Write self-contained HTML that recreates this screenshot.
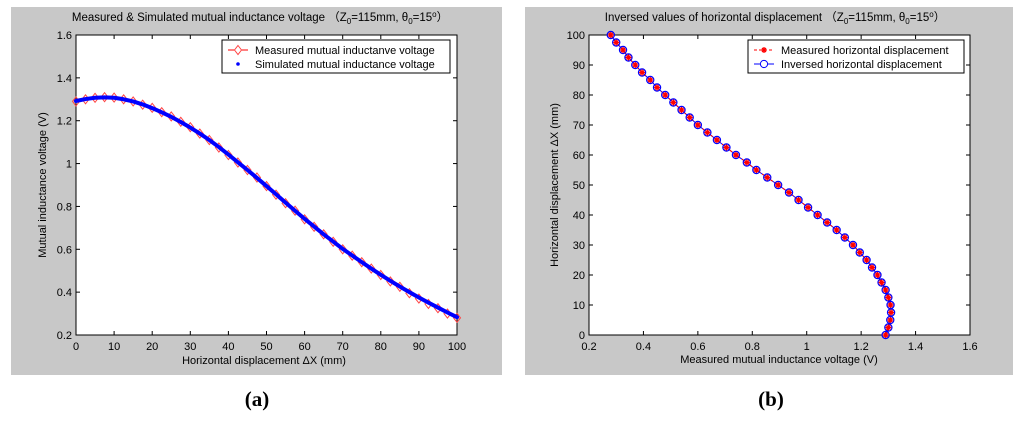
<!DOCTYPE html>
<html><head><meta charset="utf-8"><style>
html,body{margin:0;padding:0;background:#fff;width:1024px;height:423px;overflow:hidden}
svg{display:block;font-family:"Liberation Sans",sans-serif}
</style></head><body>
<svg id="svg" width="1024" height="423" xmlns="http://www.w3.org/2000/svg">
<rect x="11" y="7" width="491" height="368" fill="#c8c8c8"/>
<rect x="525" y="7" width="488" height="368" fill="#c8c8c8"/>
<g id="ga"></g>
<g id="gb"></g>
<text x="257" y="406" font-family="Liberation Serif,serif" font-size="21" font-weight="bold" text-anchor="middle">(a)</text>
<text x="771" y="406" font-family="Liberation Serif,serif" font-size="21" font-weight="bold" text-anchor="middle">(b)</text>
</svg>
<script>
const displacement=[0,2.5,5,7.5,10,12.5,15,17.5,20,22.5,25,27.5,30,32.5,35,37.5,40,42.5,45,47.5,50,52.5,55,57.5,60,62.5,65,67.5,70,72.5,75,77.5,80,82.5,85,87.5,90,92.5,95,97.5,100];
const measuredVoltage=[1.29,1.30,1.307,1.31,1.308,1.30,1.29,1.275,1.26,1.24,1.22,1.195,1.17,1.14,1.11,1.075,1.04,1.005,0.97,0.935,0.895,0.855,0.815,0.78,0.74,0.705,0.67,0.635,0.60,0.57,0.54,0.51,0.48,0.45,0.425,0.395,0.37,0.345,0.325,0.30,0.28];
const simulatedVoltage=[1.292,1.301,1.307,1.309,1.307,1.300,1.290,1.276,1.259,1.239,1.218,1.194,1.168,1.140,1.110,1.077,1.042,1.006,0.970,0.933,0.895,0.857,0.818,0.780,0.742,0.706,0.670,0.636,0.602,0.571,0.540,0.510,0.481,0.453,0.426,0.400,0.375,0.351,0.328,0.305,0.283];
const inversedDisplacement=displacement.slice();
const ticksA_x=[0,10,20,30,40,50,60,70,80,90,100];
const ticksA_y=[0.2,0.4,0.6,0.8,1,1.2,1.4,1.6];
const ticksB_x=[0.2,0.4,0.6,0.8,1,1.2,1.4,1.6];
const ticksB_y=[0,10,20,30,40,50,60,70,80,90,100];
const NS="http://www.w3.org/2000/svg";
function mk(p,tag,at,txt){const e=document.createElementNS(NS,tag);for(const k in at)e.setAttribute(k,at[k]);if(txt!==undefined)e.textContent=txt;p.appendChild(e);return e;}
function axes(g,L,T,R,B,xt,yt,sx,sy,prefix){
  const r=mk(g,'rect',{x:L,y:T,width:R-L,height:B-T,fill:'#fff',stroke:'#000','stroke-width':1});
  
  
  xt.forEach(v=>{const x=sx(v);
    mk(g,'line',{x1:x,y1:B,x2:x,y2:B-4,stroke:'#000'});mk(g,'line',{x1:x,y1:T,x2:x,y2:T+4,stroke:'#000'});
    const t=mk(g,'text',{x:x,y:B+15,'font-size':11,'text-anchor':'middle'},String(v));
    
    });
  yt.forEach(v=>{const y=sy(v);
    mk(g,'line',{x1:L,y1:y,x2:L+4,y2:y,stroke:'#000'});mk(g,'line',{x1:R,y1:y,x2:R-4,y2:y,stroke:'#000'});
    const t=mk(g,'text',{x:L-4,y:y+4,'font-size':11,'text-anchor':'end'},String(v));
    
    });
}
// Chart A
(function(){
const g=document.getElementById('ga');const L=76,T=35,R=457,B=335;
const sx=v=>L+(v-0)/100*(R-L), sy=v=>B-(v-0.2)/1.4*(B-T);
axes(g,L,T,R,B,ticksA_x,ticksA_y,sx,sy,'a-');
const mp=displacement.map((d,i)=>sx(d)+','+sy(measuredVoltage[i])).join(' ');
const ml=mk(g,'polyline',{points:mp,fill:'none',stroke:'#f00','stroke-width':1});


displacement.forEach((d,i)=>{const x=sx(d),y=sy(measuredVoltage[i]);
  const m=mk(g,'polygon',{points:`${x},${y-4.5} ${x+3.5},${y} ${x},${y+4.5} ${x-3.5},${y}`,fill:'none',stroke:'#f44','stroke-width':1});
  
  });
const sp=displacement.map((d,i)=>sx(d)+','+sy(simulatedVoltage[i])).join(' ');
const sl=mk(g,'polyline',{points:sp,fill:'none',stroke:'#00f','stroke-width':4,'stroke-linejoin':'round','stroke-linecap':'round'});


const lg=mk(g,'g',{});


mk(lg,'rect',{x:222,y:40,width:228,height:33,fill:'#fff',stroke:'#000'});
mk(lg,'line',{x1:228,y1:50,x2:248,y2:50,stroke:'#f00'});
mk(lg,'polygon',{points:'238,45.5 241.5,50 238,54.5 234.5,50',fill:'#fff',stroke:'#f44'});
mk(lg,'circle',{cx:238,cy:64,r:1.8,fill:'#00f'});
mk(lg,'text',{x:255,y:54,'font-size':11},'Measured mutual inductanve voltage');
mk(lg,'text',{x:255,y:68,'font-size':11},'Simulated mutual inductance voltage');
const tt=mk(g,'text',{x:260,y:21,'font-size':11.5,'text-anchor':'middle'});
tt.innerHTML='Measured &amp; Simulated mutual inductance voltage （Z<tspan font-size="8" dy="3">0</tspan><tspan dy="-3">=115mm, θ</tspan><tspan font-size="8" dy="3">0</tspan><tspan dy="-3">=15</tspan><tspan font-size="8" dy="-4">o</tspan><tspan dy="4">）</tspan>';


const xl=mk(g,'text',{x:264,y:364,'font-size':11,'text-anchor':'middle'},'Horizontal displacement ΔX (mm)');


const yl=mk(g,'text',{x:0,y:0,'font-size':11,'text-anchor':'middle',transform:'translate(46,185) rotate(-90)'},'Mutual inductance voltage (V)');


})();
// Chart B
(function(){
const g=document.getElementById('gb');const L=589,T=35,R=970,B=335;
const sx=v=>L+(v-0.2)/1.4*(R-L), sy=v=>B-v/100*(B-T);
axes(g,L,T,R,B,ticksB_x,ticksB_y,sx,sy,'b-');
const ip=displacement.map((d,i)=>sx(measuredVoltage[i])+','+sy(inversedDisplacement[i])).join(' ');
const il=mk(g,'polyline',{points:ip,fill:'none',stroke:'#00f','stroke-width':1});


const mp=displacement.map((d,i)=>sx(measuredVoltage[i])+','+sy(d)).join(' ');
const ml=mk(g,'polyline',{points:mp,fill:'none',stroke:'#f00','stroke-width':1,'stroke-dasharray':'3,2'});


displacement.forEach((d,i)=>{const x=sx(measuredVoltage[i]),y=sy(inversedDisplacement[i]);
  const c=mk(g,'circle',{cx:x,cy:y,r:3.6,fill:'none',stroke:'#00f','stroke-width':1.2});
  
  
  const y2=sy(d);
  const s=mk(g,'path',{d:`M${x-3},${y2}H${x+3}M${x},${y2-3}V${y2+3}M${x-2},${y2-2}L${x+2},${y2+2}M${x-2},${y2+2}L${x+2},${y2-2}`,stroke:'#f00','stroke-width':1.3});
  
  });
const lg=mk(g,'g',{});


mk(lg,'rect',{x:748,y:40,width:216,height:33,fill:'#fff',stroke:'#000'});
mk(lg,'line',{x1:754,y1:50,x2:774,y2:50,stroke:'#f00','stroke-dasharray':'3,2'});
mk(lg,'path',{d:'M761,50H767M764,47V53M762,48L766,52M762,52L766,48',stroke:'#f00','stroke-width':1.3});
mk(lg,'line',{x1:754,y1:64,x2:774,y2:64,stroke:'#00f'});
mk(lg,'circle',{cx:764,cy:64,r:3.6,fill:'#fff',stroke:'#00f'});
mk(lg,'text',{x:781,y:54,'font-size':11},'Measured horizontal displacement');
mk(lg,'text',{x:781,y:68,'font-size':11},'Inversed horizontal displacement');
const tt=mk(g,'text',{x:775,y:21,'font-size':11.5,'text-anchor':'middle'});
tt.innerHTML='Inversed values of horizontal displacement （Z<tspan font-size="8" dy="3">0</tspan><tspan dy="-3">=115mm, θ</tspan><tspan font-size="8" dy="3">0</tspan><tspan dy="-3">=15</tspan><tspan font-size="8" dy="-4">o</tspan><tspan dy="4">）</tspan>';


const xl=mk(g,'text',{x:779,y:363,'font-size':11,'text-anchor':'middle'},'Measured mutual inductance voltage (V)');


const yl=mk(g,'text',{x:0,y:0,'font-size':11,'text-anchor':'middle',transform:'translate(558,185) rotate(-90)'},'Horizontal displacement ΔX (mm)');


})();
</script>
</body></html>
